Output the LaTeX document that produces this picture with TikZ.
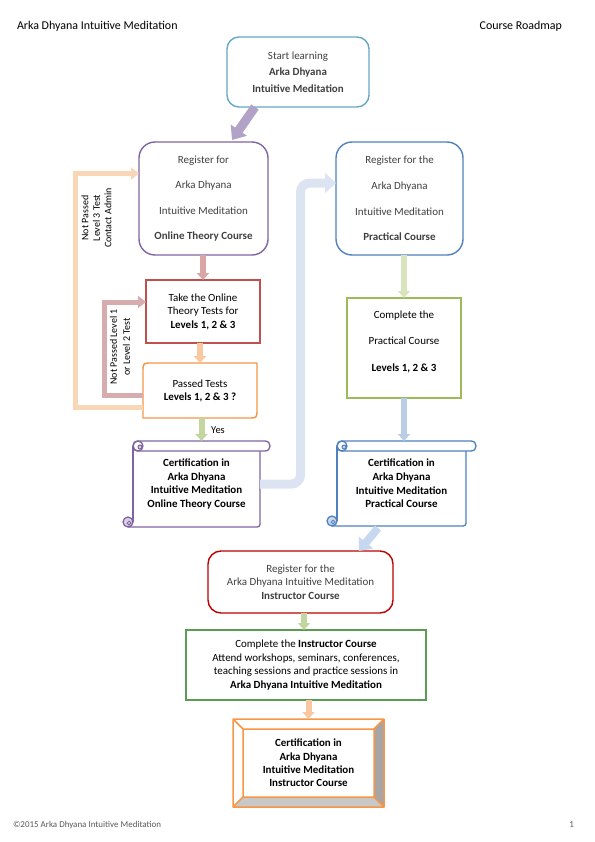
\documentclass[tikz,border=0pt]{standalone}
\usepackage{fontspec}
\setmainfont{Carlito}
\usetikzlibrary{arrows.meta,calc}
\pgfdeclarelayer{bg}
\pgfsetlayers{bg,main}
\definecolor{cStart}{RGB}{100,168,196}
\definecolor{cLav}{RGB}{179,162,199}
\definecolor{cPurple}{RGB}{128,100,162}
\definecolor{cRed}{RGB}{192,80,77}
\definecolor{cOrange}{RGB}{247,150,70}
\definecolor{cBlue}{RGB}{79,129,189}
\definecolor{cOlive}{RGB}{155,187,89}
\definecolor{cDarkRed}{RGB}{192,0,0}
\definecolor{cGreen}{RGB}{90,155,85}
\definecolor{aPink}{RGB}{217,165,165}
\definecolor{aPeach}{RGB}{250,200,160}
\definecolor{aGreen}{RGB}{196,214,160}
\definecolor{aLoopIn}{RGB}{215,172,174}
\definecolor{aLoopOut}{RGB}{248,214,182}
\definecolor{aBig}{RGB}{220,228,241}
\definecolor{aLtGreen}{RGB}{215,228,189}
\definecolor{aSteel}{RGB}{185,205,229}
\definecolor{aSky}{RGB}{198,215,240}
\definecolor{tGrey}{RGB}{64,64,64}
\definecolor{tFoot}{RGB}{89,89,89}
\definecolor{bevGreyR}{RGB}{166,166,166}
\definecolor{bevGreyB}{RGB}{200,200,200}

\newcommand\scrolldeco[2]{%
  \fill[white] ($(#1.north west)+(0,5)$) rectangle (#1.south east);
  \draw[#2, line width=1.3bp, line join=round]
    ($(#1.north east)+(0,10)$) -- ($(#1.south east)+(0,-6)$)
    .. controls (#1.south east) .. ($(#1.south east)+(-6,0)$)
    -- ($(#1.south west)+(-5,0)$);
  \draw[#2, line width=1.3bp] ($(#1.south west)+(0,-5)$) -- ($(#1.north west)+(0,5)$);
  \draw[#2, line width=1.3bp, fill=white, line join=round]
    ($(#1.north west)+(5,0)$) -- ($(#1.north east)+(5,0)$)
    .. controls ($(#1.north east)+(11.7,0)$) and ($(#1.north east)+(11.7,10)$) .. ($(#1.north east)+(5,10)$)
    -- ($(#1.north west)+(5,10)$)
    .. controls ($(#1.north west)+(-1.7,10)$) and ($(#1.north west)+(-1.7,0)$) .. cycle;
  \draw[#2, line width=1.3bp] ($(#1.north west)+(5,5)$) circle[radius=5];
  \draw[#2, line width=1bp, fill=#2!35] ($(#1.north west)+(7,6)$) circle[radius=2];
  \draw[#2, line width=1.3bp, fill=#2!30] ($(#1.south west)+(-5,-5)$) circle[radius=5];
  \draw[#2, line width=1bp, fill=white] ($(#1.south west)+(-4,-4)$) circle[radius=1.8];
}
\newcommand\beveldeco[1]{%
  \fill[white] (#1.north west) rectangle (#1.south east);
  \fill[bevGreyR] (#1.north east) -- (#1.south east) -- ($(#1.south east)+(-10,-10)$) -- ($(#1.north east)+(-10,10)$) -- cycle;
  \fill[bevGreyB] (#1.south west) -- (#1.south east) -- ($(#1.south east)+(-10,-10)$) -- ($(#1.south west)+(10,-10)$) -- cycle;
  \draw[cOrange, line width=1.5bp, line join=round]
    (#1.north west) rectangle (#1.south east)
    ($(#1.north west)+(10,10)$) rectangle ($(#1.south east)+(-10,-10)$)
    (#1.north west) -- ++(10,10) (#1.north east) -- ++(-10,10)
    (#1.south west) -- ++(10,-10) (#1.south east) -- ++(-10,-10);
}
\newcommand\passdeco[1]{%
  \draw[cOrange, line width=1.4bp, fill=white, line join=round]
    (#1.south west) -- ($(#1.north west)+(0,9)$) .. controls (#1.north west) .. ($(#1.north west)+(9,0)$)
    -- (#1.north east) -- ($(#1.south east)+(0,-9)$) .. controls (#1.south east) .. ($(#1.south east)+(-9,0)$)
    -- cycle;
}

\begin{document}
\begin{tikzpicture}[x=1bp,y=-1bp,
  box/.style={align=center, inner sep=0pt, outer sep=0pt, line width=1.4bp, fill=white},
  plain/.style={align=center, inner sep=0pt, outer sep=0pt},
  fs/.style={font=\fontsize{11}{#1}\selectfont},
  farrow/.style n args={4}{draw=#1, line width=#2, -{Triangle[width=#3,length=#4]}},
  lbl/.style={inner sep=0pt, outer sep=0pt}
]
\useasboundingbox (0,0) rectangle (595,842);

% header / footer
\node[lbl, anchor=west, font=\fontsize{12}{14}\selectfont] (hl) at (17,26) {Arka Dhyana Intuitive Meditation};
\node[lbl, anchor=east, font=\fontsize{12}{14}\selectfont] (hr) at (562,26) {Course Roadmap};
\node[lbl, anchor=west, font=\fontsize{9}{11}\selectfont, text=tFoot] (fl) at (13,825) {©2015 Arka Dhyana Intuitive Meditation};
\node[lbl, anchor=east, font=\fontsize{9}{11}\selectfont, text=tFoot] (fr) at (574,825) {1};

% boxes
\node[box, draw=cStart, rounded corners=12bp, minimum width=142bp, minimum height=70bp, text=tGrey, fs=16.5] (start) at (298,72)
  {Start learning\\\textbf{Arka Dhyana}\\\textbf{Intuitive Meditation}};
\node[box, draw=cPurple, rounded corners=16bp, minimum width=129bp, minimum height=113bp, text=tGrey, fs=25.7] (reg1) at (203.5,198.5)
  {Register for\\Arka Dhyana\\Intuitive Meditation\\\textbf{Online Theory Course}};
\node[box, draw=cRed, minimum width=114bp, minimum height=63bp, fs=13.5] (take) at (203,311.5)
  {Take the Online\\Theory Tests for\\\textbf{Levels 1, 2 \& 3}};
\node[plain, minimum width=114bp, minimum height=55bp, fs=13] (pass) at (200,390.5)
  {Passed Tests\\\textbf{Levels 1, 2 \& 3 ?}};
\node[plain, minimum width=127bp, minimum height=86bp, font=\fontsize{11}{13.7}\selectfont\bfseries] (cert1) at (196.5,484)
  {Certification in\\Arka Dhyana\\Intuitive Meditation\\Online Theory Course};

\node[box, draw=cBlue, rounded corners=16bp, minimum width=127bp, minimum height=113bp, text=tGrey, fs=25.7] (reg2) at (399.5,198.5)
  {Register for the\\Arka Dhyana\\Intuitive Meditation\\\textbf{Practical Course}};
\node[box, draw=cOlive, minimum width=114bp, minimum height=100bp, fs=26.7, text depth=14bp] (comp2) at (404,348)
  {Complete the\\Practical Course\\\textbf{Levels 1, 2 \& 3}};
\node[plain, minimum width=129bp, minimum height=85bp, font=\fontsize{11}{13.7}\selectfont\bfseries] (cert2) at (401.5,483.5)
  {Certification in\\Arka Dhyana\\Intuitive Meditation\\Practical Course};

\node[box, draw=cDarkRed, rounded corners=13bp, minimum width=185bp, minimum height=62bp, text=tGrey, fs=13.5] (reg3) at (300.5,582)
  {Register for the\\Arka Dhyana Intuitive Meditation\\\textbf{Instructor Course}};
\node[box, draw=cGreen, minimum width=240bp, minimum height=70bp, fs=13.8] (comp3) at (306,665)
  {Complete the \textbf{Instructor Course}\\Attend workshops, seminars, conferences,\\teaching sessions and practice sessions in\\\textbf{Arka Dhyana Intuitive Meditation}};
\node[plain, minimum width=151bp, minimum height=88bp, font=\fontsize{11}{13.5}\selectfont\bfseries] (cert3) at (308.5,763)
  {Certification in\\Arka Dhyana\\Intuitive Meditation\\Instructor Course};

% labels
\node[lbl, font=\fontsize{10.5}{12}\selectfont] (yes) at (218,430) {Yes};
\node[lbl, rotate=90, align=center, font=\fontsize{10}{13}\selectfont] (np12) at (120,347) {Not Passed Level 1\\or Level 2 Test};
\node[lbl, rotate=90, align=center, font=\fontsize{10}{11.5}\selectfont] (np3) at (96.5,218) {Not Passed\\Level 3 Test\\Contact Admin};

% custom shapes behind the text
\begin{pgfonlayer}{bg}
  \passdeco{pass}
  \scrolldeco{cert1}{cPurple}
  \scrolldeco{cert2}{cBlue}
  \beveldeco{cert3}
\end{pgfonlayer}

% connectors
\coordinate (l1) at (104.5,350);
\coordinate (l2) at (75.5,300);
\coordinate (b1) at (300.5,300);

\draw[farrow={cLav}{9bp}{19bp}{12bp}] ($(start.south west)+(28,0)$) -- ($(reg1.north west)+(93,-2)$);
\draw[farrow={aPink}{6bp}{12bp}{7bp}] (take.north |- reg1.south) -- (take.north);
\draw[farrow={aPeach}{6bp}{12bp}{7bp}] (pass.north |- take.south) -- (pass.north);
\draw[farrow={aGreen}{6bp}{12bp}{7bp}] ([xshift=1.5bp]pass.south) -- ([xshift=1.5bp]pass.south |- cert1.north);
\draw[farrow={aLoopIn}{5bp}{12bp}{8bp}] ([yshift=-5bp]pass.west) -| (l1) |- ([yshift=9.5bp]take.west);
\draw[farrow={aLoopOut}{5bp}{12bp}{8bp}] ([yshift=-17bp]pass.west) -| (l2) |- ([yshift=25bp]reg1.west);
\draw[farrow={aBig}{9bp}{20bp}{11bp}, rounded corners=9bp] (cert1.east) -| (b1) |- ([yshift=15.5bp]reg2.west);

\draw[farrow={aLtGreen}{6bp}{12bp}{7bp}] (comp2.north |- reg2.south) -- (comp2.north);
\draw[farrow={aSteel}{6bp}{12bp}{7bp}] (comp2.south) -- (comp2.south |- cert2.north);
\draw[farrow={aSky}{8bp}{18bp}{11bp}] ($(cert2.south west)+(41,2)$) -- ($(reg3.north east)+(-34,0)$);
\draw[farrow={aGreen}{6bp}{12bp}{7bp}] ([xshift=3.5bp]reg3.south) -- ([xshift=3.5bp]reg3.south |- comp3.north);
\draw[farrow={aPeach}{6bp}{12bp}{7bp}] (cert3.north |- comp3.south) -- (cert3.north);
\end{tikzpicture}
\end{document}
